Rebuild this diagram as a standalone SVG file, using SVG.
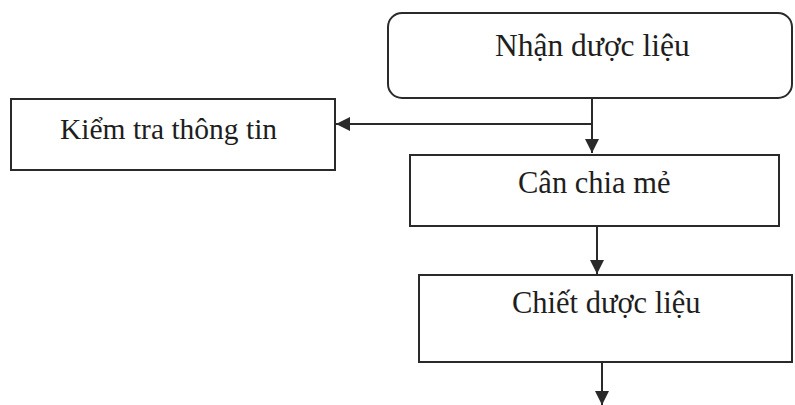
<svg xmlns="http://www.w3.org/2000/svg" width="795" height="405" viewBox="0 0 795 405">
<style>
.box{fill:#fff;stroke:#2a2a2a;stroke-width:2}
.lbl{font-family:"Liberation Serif","Times New Roman",serif;fill:#1e1e1e}
.con{fill:none;stroke:#2a2a2a;stroke-width:2}
</style>
<defs>
<marker id="ah" viewBox="0 0 14 16" refX="14" refY="8" markerWidth="14" markerHeight="16" markerUnits="userSpaceOnUse" orient="auto">
<path d="M0,1 L14,8 L0,15 Z" fill="#2a2a2a"/>
</marker>
</defs>
<rect width="795" height="405" fill="#fff"/>
<g id="n1">
<rect class="box" x="388" y="13" width="404" height="85" rx="14"/>
<text class="lbl" x="495" y="56" font-size="31.5">Nhận dược liệu</text>
</g>
<g id="n2">
<rect class="box" x="11" y="99" width="324" height="71"/>
<text class="lbl" x="60" y="139" font-size="29.5">Kiểm tra thông tin</text>
</g>
<g id="n3">
<rect class="box" x="410" y="155" width="369" height="71"/>
<text class="lbl" x="518" y="193" font-size="30.5">Cân chia mẻ</text>
</g>
<g id="n4">
<rect class="box" x="419" y="275" width="373" height="87"/>
<text class="lbl" x="512" y="313" font-size="30.5">Chiết dược liệu</text>
</g>
<g id="connectors">
<path class="con" d="M592,98 V153" marker-end="url(#ah)"/>
<path class="con" d="M592,124 H336" marker-end="url(#ah)"/>
<path class="con" d="M597,226 V274" marker-end="url(#ah)"/>
<path class="con" d="M602,362 V405" marker-end="url(#ah)"/>
</g>
</svg>
